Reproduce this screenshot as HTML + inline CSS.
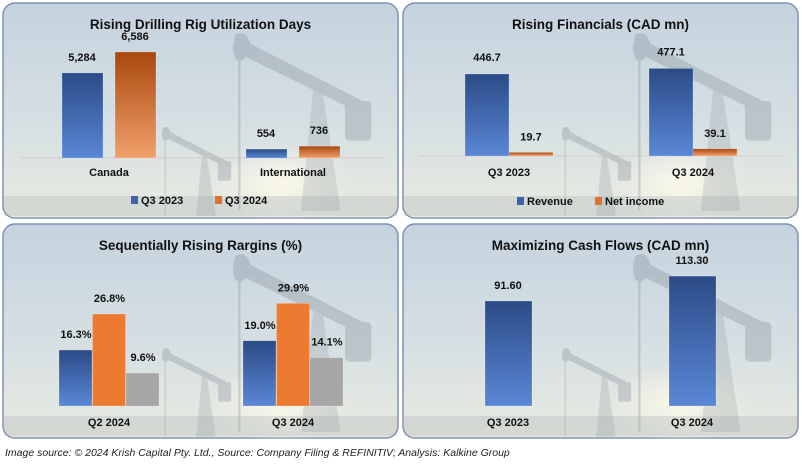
<!DOCTYPE html>
<html><head><meta charset="utf-8">
<style>
html,body{margin:0;padding:0;background:#fff;width:802px;height:465px;overflow:hidden;font-family:"Liberation Sans",sans-serif}
#caption{position:absolute;left:5px;top:447px;font-size:10.5px;font-style:italic;color:#222}
</style></head><body>
<svg id="root" width="802" height="445" style="position:absolute;left:0;top:0">
<defs>
<linearGradient id="sky" x1="0" y1="0" x2="0" y2="1">
<stop offset="0" stop-color="#c5d3df"/><stop offset="0.6" stop-color="#d7e0e3"/><stop offset="1" stop-color="#e9ebe0"/></linearGradient>
<radialGradient id="sun" cx="0.5" cy="0.5" r="0.5"><stop offset="0" stop-color="#fbf9ea" stop-opacity="0.95"/><stop offset="1" stop-color="#fbf9ea" stop-opacity="0"/></radialGradient>
<linearGradient id="blue" x1="0" y1="0" x2="0" y2="1"><stop offset="0" stop-color="#2b4b86"/><stop offset="1" stop-color="#5a87d6"/></linearGradient>
<linearGradient id="orange" x1="0" y1="0" x2="0" y2="1"><stop offset="0" stop-color="#a8480f"/><stop offset="1" stop-color="#f2a06a"/></linearGradient>
<linearGradient id="orangeFlat" x1="0" y1="0" x2="0" y2="1"><stop offset="0" stop-color="#ec7a30"/><stop offset="1" stop-color="#ec7a30"/></linearGradient>
<linearGradient id="grey" x1="0" y1="0" x2="0" y2="1"><stop offset="0" stop-color="#a6a6a6"/><stop offset="1" stop-color="#a6a6a6"/></linearGradient>
<g id="jack" fill="#75808a" opacity="0.28">
<path d="M0 0 Q10 -6 14 8 L120 62 L116 72 L10 20 Q0 30 -2 12 Z"/>
<rect x="3" y="20" width="2" height="140"/>
<path d="M60 160 L72 40 L78 40 L96 160 Z" fill-opacity="0.7"/>
<rect x="100" y="60" width="24" height="36" rx="4"/>
</g>
</defs>
</svg>
<div id="caption">Image source: © 2024 Krish Capital Pty. Ltd., Source: Company Filing &amp; REFINITIV; Analysis: Kalkine Group</div>
<script>
// Panel 1 data
const rigCategories=["Canada","International"];
const rigQ3_2023=[5284,554];
const rigQ3_2024=[6586,736];
const rigLabels2023=["5,284","554"];
const rigLabels2024=["6,586","736"];
// Panel 2 data
const finCategories=["Q3 2023","Q3 2024"];
const finRevenue=[446.7,477.1];
const finNetIncome=[19.7,39.1];
// Panel 3 data
const marginCategories=["Q2 2024","Q3 2024"];
const marginA=[16.3,19.0];
const marginB=[26.8,29.9];
const marginC=[9.6,14.1];
// Panel 4 data
const cashCategories=["Q3 2023","Q3 2024"];
const cashFlows=[91.60,113.30];

const NS="http://www.w3.org/2000/svg";
const root=document.getElementById('root');
function mk(tag,attrs,parent){const e=document.createElementNS(NS,tag);for(const k in attrs)e.setAttribute(k,attrs[k]);(parent||root).appendChild(e);return e;}
function txt(x,y,s,size,parent,anchor){const t=mk('text',{x:x,y:y,'font-size':size,'font-weight':'bold','text-anchor':anchor||'middle',fill:'#111'},parent);t.textContent=s;return t;}

function panel(x,y,w,h,title,name){
  const g=mk('g',{});
  
  
  mk('rect',{x:x,y:y,width:w,height:h,rx:12,fill:'url(#sky)',stroke:'#7f93b5','stroke-width':1.5},g);
  mk('ellipse',{cx:x+w/2+80,cy:y+h-35,rx:70,ry:40,fill:'url(#sun)'},g);
  mk('use',{href:'#jack',transform:`translate(${x+232},${y+32}) scale(1.1)`},g);
  mk('use',{href:'#jack',transform:`translate(${x+160},${y+125}) scale(0.55)`},g);
  mk('rect',{x:x+1,y:y+h-22,width:w-2,height:20,fill:'#98a2aa',opacity:0.25},g);
  const t=txt(x+w/2,y+26,title,13.5,g);
  
  
  return g;
}
function bar(g,x,base,w,hgt,fill,name){
  const r=mk('rect',{x:x,y:base-hgt,width:w,height:hgt,fill:fill,stroke:'#ffffff','stroke-opacity':0.4,'stroke-width':0.5},g);
  
  
  return r;
}
function legend(g,cx,y,items){
  let x=cx;
  items.forEach(it=>{
    const lg=mk('g',{},g);
    
    
    mk('rect',{x:x,y:y-8,width:7,height:8,fill:it[1]},lg);
    txt(x+10,y,it[0],11,lg,'start');
    x+=it[2];
  });
}

// Panel 1
{
  const g=panel(3,3,395,215,"Rising Drilling Rig Utilization Days","rig-utilization-panel");
  const base=158, sc=106/6586, groupX=[62,246];
  mk('line',{x1:20,y1:base,x2:385,y2:base,stroke:'#c9b9b0','stroke-width':0.6},g);
  rigCategories.forEach((c,i)=>{
    const h1=rigQ3_2023[i]*sc,h2=rigQ3_2024[i]*sc;
    bar(g,groupX[i],base,41,h1,'url(#blue)','bar-q3-2023-'+i);
    bar(g,groupX[i]+53,base,41,h2,'url(#orange)','bar-q3-2024-'+i);
    txt(groupX[i]+20,base-h1-12,rigLabels2023[i],11,g);
    txt(groupX[i]+73,base-h2-12,rigLabels2024[i],11,g);
    const l=txt(groupX[i]+47,base+18,c,11,g);
    
    
  });
  legend(g,131,204,[["Q3 2023","#3d63b0",84],["Q3 2024","#e0702a",0]]);
}
// Panel 2
{
  const g=panel(403,3,395,215,"Rising Financials (CAD mn)","financials-panel");
  const base=156, sc=82/446.7, groupX=[465,649];
  mk('line',{x1:418,y1:base,x2:785,y2:base,stroke:'#c9b9b0','stroke-width':0.6},g);
  finCategories.forEach((c,i)=>{
    const h1=finRevenue[i]*sc,h2=Math.max(finNetIncome[i]*sc,3);
    bar(g,groupX[i],base,44,h1,'url(#blue)','bar-revenue-'+i);
    bar(g,groupX[i]+44,base,44,h2,'url(#orange)','bar-net-income-'+i);
    txt(groupX[i]+22,base-h1-13,finRevenue[i].toFixed(1),11,g);
    txt(groupX[i]+66,base-h2-12,finNetIncome[i].toFixed(1),11,g);
    const l=txt(groupX[i]+44,base+20,c,11,g);
    
    
  });
  legend(g,517,205,[["Revenue","#3d63b0",78],["Net income","#e0702a",0]]);
}
// Panel 3
{
  const g=panel(3,224,395,214,"Sequentially Rising Rargins (%)","margins-panel");
  const base=406, sc=92/26.8, groupX=[59,243];
  marginCategories.forEach((c,i)=>{
    const hs=[marginA[i]*sc,marginB[i]*sc,marginC[i]*sc];
    const vals=[marginA[i],marginB[i],marginC[i]];
    const fills=['url(#blue)','url(#orangeFlat)','url(#grey)'];
    hs.forEach((h,k)=>{
      bar(g,groupX[i]+k*33.5,base,33,h,fills[k],'bar-margin-'+k+'-'+i);
      txt(groupX[i]+k*33.5+17,base-h-12,vals[k].toFixed(1)+'%',11,g);
    });
    const l=txt(groupX[i]+50,base+20,c,11,g);
    
    
  });
}
// Panel 4
{
  const g=panel(403,224,395,214,"Maximizing Cash Flows (CAD mn)","cash-flows-panel");
  const base=406, sc=105/91.6, groupX=[485,669];
  cashCategories.forEach((c,i)=>{
    const h=cashFlows[i]*sc;
    bar(g,groupX[i],base,47,h,'url(#blue)','bar-cash-flow-'+i);
    txt(groupX[i]+23,base-h-12,cashFlows[i].toFixed(2),11,g);
    const l=txt(groupX[i]+23,base+20,c,11,g);
    
    
  });
}
</script>
</body></html>
